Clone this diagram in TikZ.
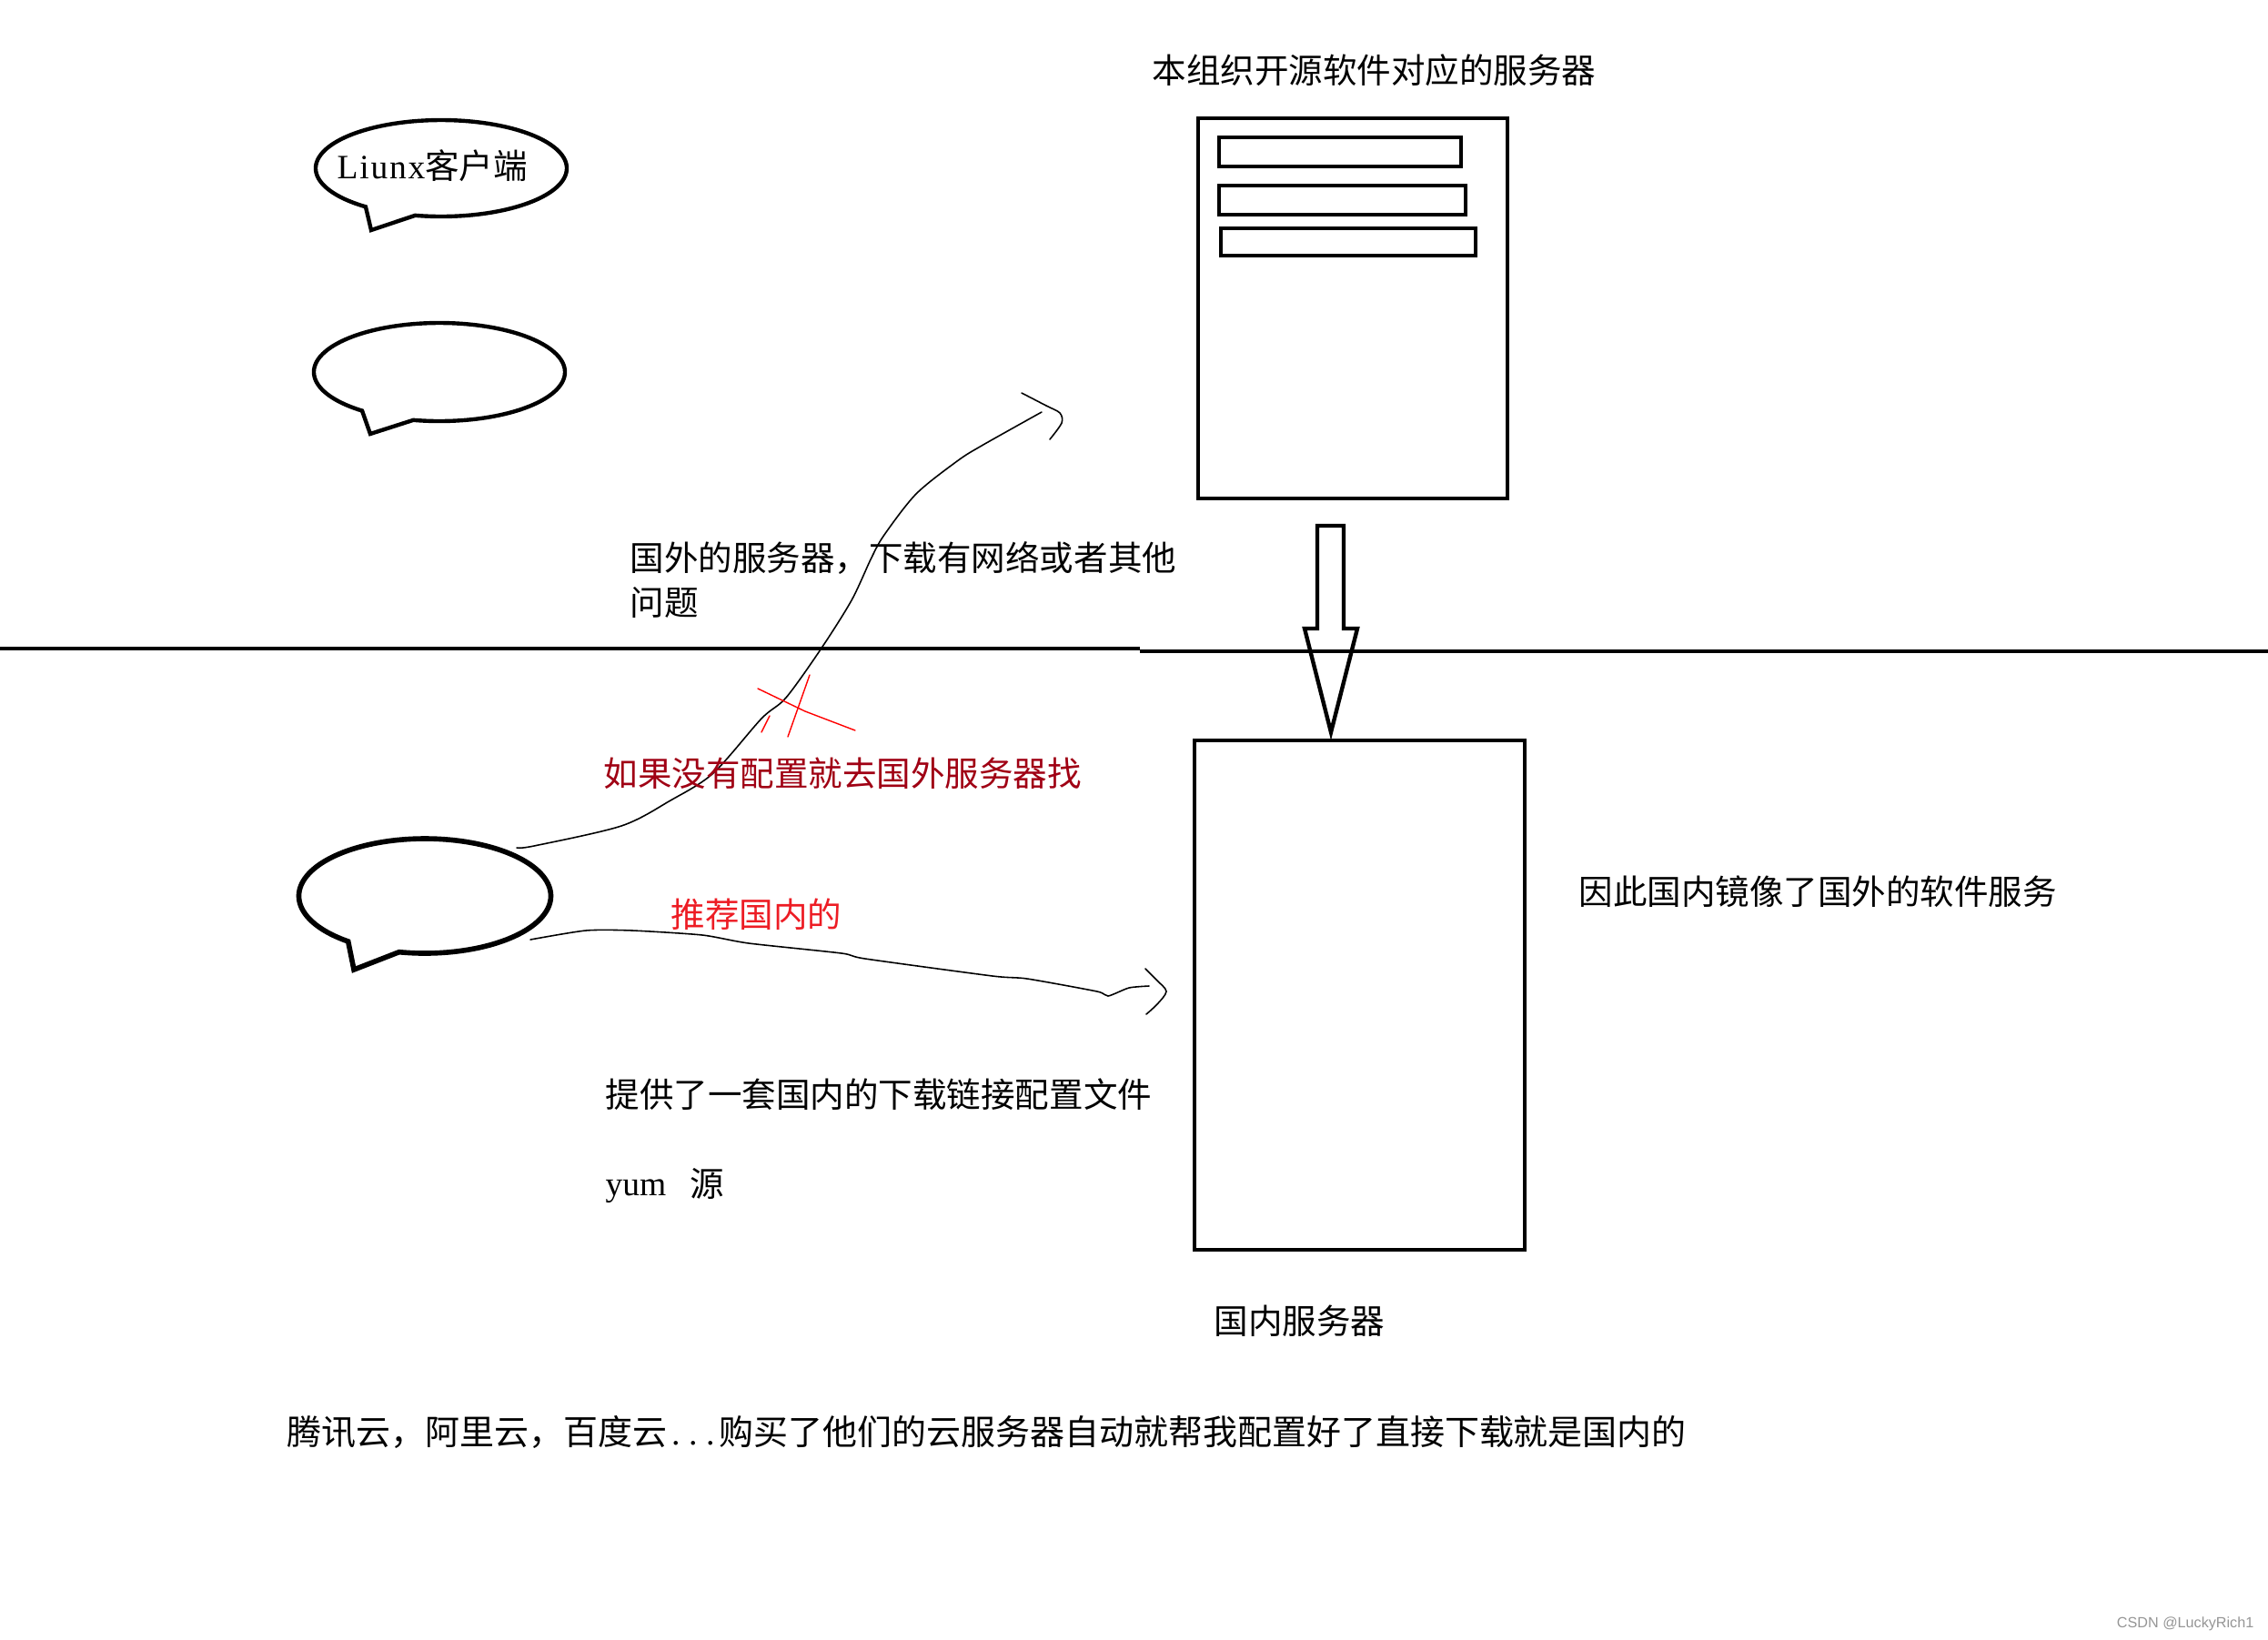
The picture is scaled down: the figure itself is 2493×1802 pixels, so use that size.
\documentclass[tikz,border=0pt]{standalone}
\usepackage{fontspec}
\setmainfont{Liberation Serif}
\newfontfamily\cjk{Noto Sans CJK SC}
\newfontfamily\wmfont{Liberation Sans}
\definecolor{darkredtxt}{RGB}{160,0,20}
\definecolor{brightredtxt}{RGB}{237,28,36}
\definecolor{wmgrey}{RGB}{150,150,150}
\newcommand{\hwdot}{\makebox[0.5em][c]{.}}
\newcommand{\lk}{\kern0.5pt}
\begin{document}
\begin{tikzpicture}[x=0.01cm,y=-0.01cm,
  txt/.style={anchor=base west, inner sep=0pt, font=\fontsize{10.67pt}{13pt}\selectfont},
  boldline/.style={line width=1.25pt, line join=miter},
  pen/.style={line width=0.45pt, line cap=round, line join=round},
  redpen/.style={line width=0.4pt, draw=red, line cap=round},
  boxnode/.style={draw, line width=1.25pt, inner sep=0pt, rectangle}]
\useasboundingbox[fill=white] (0,0) rectangle (2493,1802);

% ---- speech bubbles (clients)
\coordinate (b1) at (485,185);
\coordinate (b2) at (483,409);
\coordinate (b3) at (467,985);
\draw[boldline] plot[domain=127:462, samples=150] ({485+138*cos(\x)},{185+53*sin(\x)}) -- (408,253) -- cycle;
\draw[boldline] plot[domain=128:462, samples=150] ({483+138*cos(\x)},{409+54*sin(\x)}) -- (407,477) -- cycle;
\draw[line width=1.6pt, line join=miter] plot[domain=127.5:461.8, samples=150] ({467+138.5*cos(\x)},{985+63*sin(\x)}) -- (389,1066) -- cycle;
\node[txt] (client) at (370,196) {L\lk i\lk u\lk n\lk x{\cjk 客户端}};

% ---- overseas server
\node[txt] (srvtitle) at (1266,91) {\cjk 本组织开源软件对应的服务器};
\node[boxnode, minimum width=3.40cm, minimum height=4.18cm] (srv) at (1487,339) {};
\node[boxnode, minimum width=2.66cm, minimum height=0.32cm] (bar1) at (1473,167) {};
\node[boxnode, minimum width=2.71cm, minimum height=0.32cm] (bar2) at (1475.5,220) {};
\node[boxnode, minimum width=2.80cm, minimum height=0.30cm] (bar3) at (1482,266) {};

% ---- domestic server
\node[boxnode, minimum width=3.63cm, minimum height=5.60cm] (dom) at (1494.5,1094) {};
\node[txt] (domlabel) at (1334,1466) {\cjk 国内服务器};
\node[txt] (mirror) at (1735,994) {\cjk 因此国内镜像了国外的软件服务};

% ---- divider line
\coordinate (hl1) at (0,713);
\coordinate (hl2) at (1253,713);
\coordinate (hl3) at (1253,716);
\coordinate (hl4) at (2493,716);
\draw[line width=1.25pt] (hl1) -- (hl2);
\draw[line width=1.25pt] (hl3) -- (hl4);

% ---- hollow arrow between servers
\draw[boldline] (1448,578) -- (1477,578) -- (1477,691) -- (1492,691) -- (1463,805) -- (1434,691) -- (1448,691) -- cycle;

% ---- freehand arrow to overseas server
\coordinate (c1s) at (568,932);
\coordinate (c1e) at (1145,453);
\draw[pen] plot[smooth, tension=0.5] coordinates {(c1s) (587,930) (683,908) (737,880) (784,850) (837,790) (864,767) (902,714) (936,660) (958,613) (972,588) (1007,543) (1052,507) (1079,490) (c1e)};
\draw[pen] plot[smooth, tension=0.5] coordinates {(1123,432) (1150,446) (1165,454) (1167,465) (1154,483)};

% ---- red cross
\draw[redpen] (833,757) -- (885,782) -- (940,803);
\draw[redpen] (890,742) -- (866,810);
\draw[redpen] (846,787) -- (837,805);

% ---- freehand arrow to domestic server
\coordinate (c2s) at (583,1033);
\coordinate (c2e) at (1263,1084);
\draw[pen] plot[smooth, tension=0.4] coordinates {(c2s) (644,1023) (695,1023) (772,1028) (823,1037) (925,1048) (951,1054) (1091,1073) (1129,1076) (1206,1090) (1218,1095) (1241,1086) (c2e)};
\draw[pen] plot[smooth, tension=0.5] coordinates {(1259,1065) (1272,1078) (1282,1090) (1272,1104) (1260,1115)};

% ---- texts
\node[txt] (abroad1) at (692,627) {\cjk 国外的服务器，下载有网络或者其他};
\node[txt] (abroad2) at (692,676) {\cjk 问题};
\node[txt, text=darkredtxt] (noconf) at (663,864) {\cjk 如果没有配置就去国外服务器找};
\node[txt, text=brightredtxt] (recom) at (737,1019) {\cjk 推荐国内的};
\node[txt] (provide) at (665,1217) {\cjk 提供了一套国内的下载链接配置文件};
\node[txt] (yum) at (665,1314) {yum};
\node[txt] (yuan) at (758,1315) {\cjk 源};
\node[txt, font=\fontsize{10.8pt}{13pt}\selectfont] (bottom) at (315,1588) {{\cjk 腾讯云，阿里云，百度云}\hwdot\hwdot\hwdot{\cjk 购买了他们的云服务器自动就帮我配置好了直接下载就是国内的}};
\node[anchor=base east, inner sep=0pt, text=wmgrey, font=\wmfont\fontsize{4.6pt}{5pt}\selectfont] (wm) at (2478,1789) {CSDN @LuckyRich1};
\end{tikzpicture}
\end{document}
